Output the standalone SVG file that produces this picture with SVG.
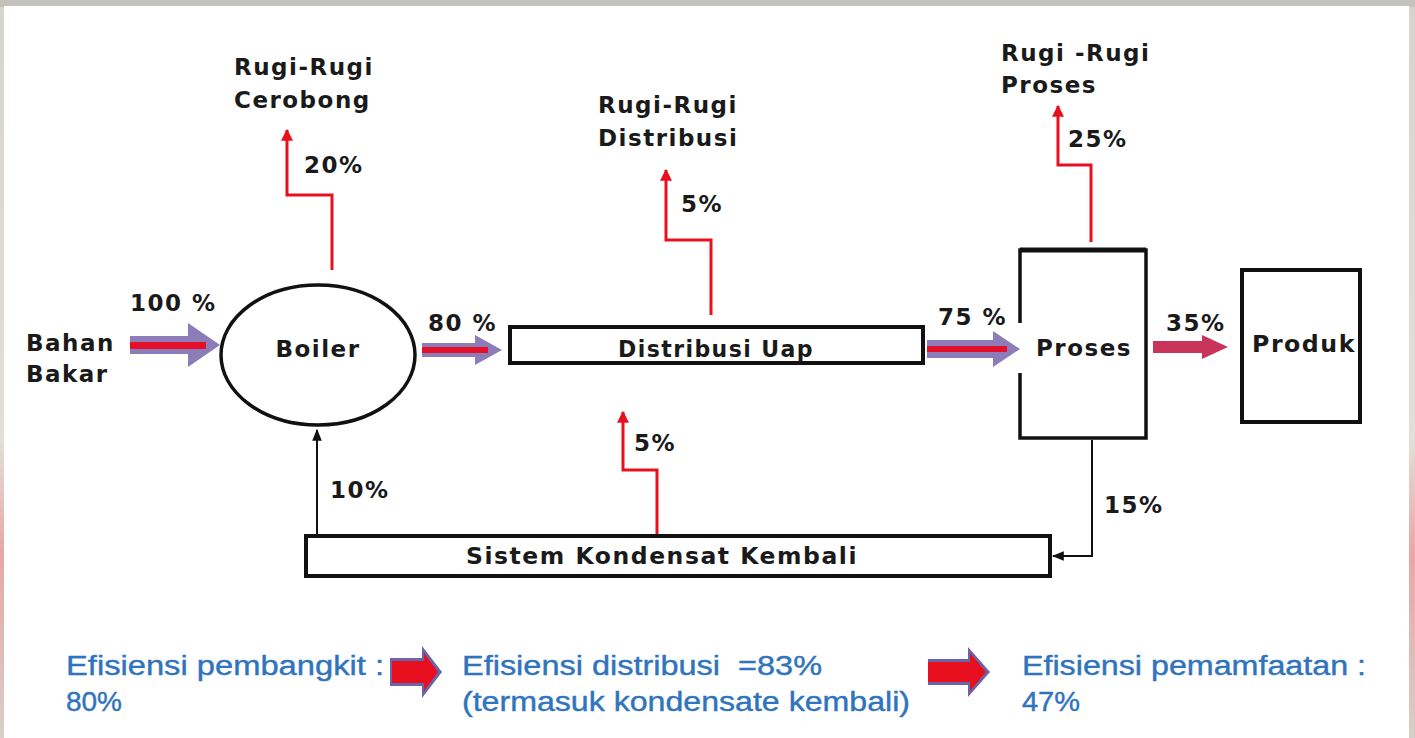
<svg xmlns="http://www.w3.org/2000/svg" width="1415" height="738" viewBox="0 0 1415 738">
<defs>
<style>
.lbl{font-family:"DejaVu Sans",Verdana,sans-serif;font-weight:bold;font-size:23px;fill:#1a1a1a;letter-spacing:1.5px}
.blue{font-family:"Liberation Sans",Arial,sans-serif;font-size:27px;fill:#2f74bd;stroke:#2f74bd;stroke-width:0.4}
.box{fill:#fff;stroke:#111;stroke-width:4}
.loss{fill:none;stroke:#e8101e;stroke-width:3}
.thin{fill:none;stroke:#111;stroke-width:2}
.big{fill:#7f6fb0;opacity:0.9}
.core{fill:#e4102a}
</style>
<marker id="redhead" viewBox="0 0 10 10" refX="9" refY="5" markerWidth="4" markerHeight="5" orient="auto" markerUnits="strokeWidth">
<path d="M0,0 L10,5 L0,10 z" fill="#e8101e"/>
</marker>
<marker id="blkhead" viewBox="0 0 10 10" refX="9" refY="5" markerWidth="6" markerHeight="6" orient="auto" markerUnits="strokeWidth">
<path d="M0,1 L10,5 L0,9 z" fill="#111"/>
</marker>
<linearGradient id="grayedge" x1="0" y1="0" x2="0" y2="1">
<stop offset="0" stop-color="#d6d4cc"/>
<stop offset="0.6" stop-color="#e2dfd6"/>
<stop offset="0.75" stop-color="#e9a6a6"/>
<stop offset="1" stop-color="#d8cfc8"/>
</linearGradient>
</defs>
<rect x="0" y="0" width="1415" height="738" fill="url(#grayedge)"/>
<rect x="0" y="0" width="1415" height="7" fill="#c4c2bc"/>
<rect x="4" y="6" width="1405" height="732" fill="#ffffff"/>

<g id="connectors">
<g id="flow-100">
<polygon class="big" points="130,336 188,336 188,323 220,345 188,367 188,354 130,354"/>
<rect class="core" x="130" y="342" width="76" height="7"/>
</g>
<g id="flow-80">
<polygon class="big" points="422,343 475,343 475,335 502,350 475,365 475,357 422,357"/>
<rect class="core" x="422" y="347" width="66" height="6"/>
</g>
<g id="flow-75">
<polygon class="big" points="927,340 993,340 993,331 1020,349 993,367 993,358 927,358"/>
<rect class="core" x="927" y="346" width="80" height="6"/>
</g>
<g id="flow-35">
<polygon fill="#c8345a" points="1153,341 1202,341 1202,335 1228,347 1202,359 1202,353 1153,353"/>
</g>
<polyline class="loss" points="332,270 332,195 287,195 287,130" marker-end="url(#redhead)"/>
<polyline class="loss" points="711,315 711,240 666,240 666,170" marker-end="url(#redhead)"/>
<polyline class="loss" points="1091,242 1091,165 1058,165 1058,106" marker-end="url(#redhead)"/>
<polyline class="loss" points="657,534 657,470 623,470 623,412" marker-end="url(#redhead)"/>
<line class="thin" x1="317" y1="536" x2="317" y2="430" marker-end="url(#blkhead)"/>
<polyline class="thin" points="1092,440 1092,556 1053,556" marker-end="url(#blkhead)"/>
</g>

<g id="node-bahan">
<text class="lbl" x="26" y="351">Bahan</text>
<text class="lbl" x="26" y="382">Bakar</text>
</g>
<g id="node-boiler">
<ellipse cx="318" cy="355" rx="97" ry="70" fill="#fff" stroke="#111" stroke-width="3.5"/>
<text class="lbl" x="318" y="357" text-anchor="middle">Boiler</text>
</g>
<g id="node-distribusi">
<rect class="box" x="510" y="327" width="413" height="36"/>
<text class="lbl" x="716" y="357" text-anchor="middle" textLength="196" lengthAdjust="spacingAndGlyphs">Distribusi Uap</text>
</g>
<g id="node-proses">
<path d="M1020,323 L1020,250 L1146,250 L1146,438 L1020,438 L1020,373" fill="#fff" stroke="#111" stroke-width="3.5"/>
<line x1="1020" y1="250" x2="1146" y2="250" stroke="#111" stroke-width="5"/>
<text class="lbl" x="1084" y="356" text-anchor="middle">Proses</text>
</g>
<g id="node-produk">
<rect class="box" x="1242" y="270" width="118" height="152"/>
<text class="lbl" x="1252" y="352" textLength="104" lengthAdjust="spacingAndGlyphs">Produk</text>
</g>
<g id="node-kondensat">
<rect class="box" x="306" y="536" width="744" height="40"/>
<text class="lbl" x="662" y="564" text-anchor="middle" textLength="392" lengthAdjust="spacingAndGlyphs">Sistem Kondensat Kembali</text>
</g>
<g id="node-rugi-cerobong">
<text class="lbl" x="234" y="75">Rugi-Rugi</text>
<text class="lbl" x="234" y="108">Cerobong</text>
</g>
<g id="node-rugi-distribusi">
<text class="lbl" x="598" y="113">Rugi-Rugi</text>
<text class="lbl" x="598" y="146">Distribusi</text>
</g>
<g id="node-rugi-proses">
<text class="lbl" x="1001" y="61">Rugi -Rugi</text>
<text class="lbl" x="1001" y="93">Proses</text>
</g>

<g id="labels">
<text class="lbl" x="130" y="311">100 %</text>
<text class="lbl" x="428" y="331">80 %</text>
<text class="lbl" x="938" y="325">75 %</text>
<text class="lbl" x="1166" y="331">35%</text>
<text class="lbl" x="304" y="173">20%</text>
<text class="lbl" x="681" y="212">5%</text>
<text class="lbl" x="1068" y="147">25%</text>
<text class="lbl" x="634" y="451">5%</text>
<text class="lbl" x="330" y="498">10%</text>
<text class="lbl" x="1104" y="513">15%</text>
</g>

<g id="efficiency">
<text class="blue" x="66" y="675" textLength="318" lengthAdjust="spacingAndGlyphs">Efisiensi pembangkit :</text>
<text class="blue" x="66" y="711" textLength="56" lengthAdjust="spacingAndGlyphs">80%</text>
<g id="eff-arrow-1">
<polygon points="390,658 422,658 422,646 442,672 422,698 422,686 390,686" fill="#6a64a8"/>
<polygon points="392,661 424,661 424,653 438,672 424,691 424,683 392,683" fill="#e8101e"/>
</g>
<text class="blue" x="462" y="675" textLength="360" lengthAdjust="spacingAndGlyphs">Efisiensi distribusi &#160;=83%</text>
<text class="blue" x="462" y="711" textLength="448" lengthAdjust="spacingAndGlyphs">(termasuk kondensate kembali)</text>
<g id="eff-arrow-2">
<polygon points="928,659 968,659 968,647 990,672 968,697 968,685 928,685" fill="#6a64a8"/>
<polygon points="928,662 970,662 970,653 986,672 970,691 970,682 928,682" fill="#e8101e"/>
</g>
<text class="blue" x="1022" y="675" textLength="344" lengthAdjust="spacingAndGlyphs">Efisiensi pemamfaatan :</text>
<text class="blue" x="1022" y="711" textLength="58" lengthAdjust="spacingAndGlyphs">47%</text>
</g>
</svg>
